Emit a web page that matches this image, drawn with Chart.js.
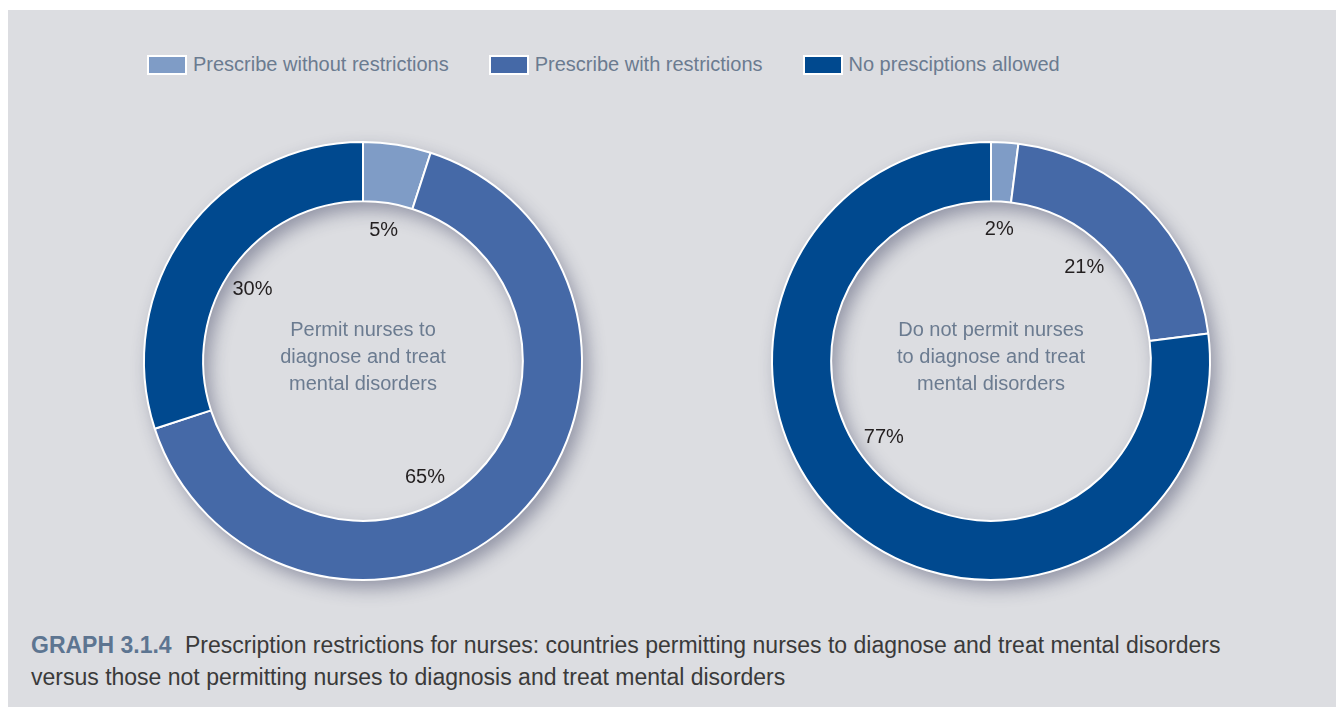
<!DOCTYPE html>
<html>
<head>
<meta charset="utf-8">
<script src="https://cdn.jsdelivr.net/npm/chart.js@4.4.1/dist/chart.umd.min.js"></script>
<style>
  html, body { margin: 0; padding: 0; background: #ffffff; }
  body { width: 1336px; height: 707px; position: relative; overflow: hidden; }
  #panel { position: absolute; left: 8px; top: 10px; right: 0; bottom: 0; background: #dcdde1; }
  #legend { position: absolute; left: 147px; top: 53px; display: flex; align-items: center;
            font-family: "Liberation Sans", Arial, sans-serif;
            font-size: 20px; color: #6b7b90; }
  #legend .item { display: flex; align-items: center; margin-right: 40px; }
  #legend .box { width: 36px; height: 16px; border: 2px solid #ffffff; margin-right: 6px; }
  .wrap { position: absolute; width: 500px; height: 500px; }
  #caption { position: absolute; left: 31px; top: 629px; width: 1300px;
             font-family: "Liberation Sans", Arial, sans-serif; font-size: 23px; line-height: 32px; color: #3a3a3a; }
  #caption b { color: #5d7591; margin-right: 7px; }
</style>
</head>
<body>
<div id="panel"></div>
<div id="legend"></div>
<div class="wrap" style="left:113px; top:111px;"><canvas id="leftChart" width="500" height="500"></canvas></div>
<div class="wrap" style="left:741px; top:111px;"><canvas id="rightChart" width="500" height="500"></canvas></div>
<div id="caption"><b>GRAPH 3.1.4</b> Prescription restrictions for nurses: countries permitting nurses to diagnose and treat mental disorders<br>versus those not permitting nurses to diagnosis and treat mental disorders</div>
<script>
// categories and colours
const categories = ['Prescribe without restrictions', 'Prescribe with restrictions', 'No presciptions allowed'];
const colors = ['#7f9cc6', '#4569a7', '#00498f'];

// values (percent)
const permitValues = [5, 65, 30];
const notPermitValues = [2, 21, 77];

// centre titles
const permitTitle = ['Permit nurses to', 'diagnose and treat', 'mental disorders'];
const notPermitTitle = ['Do not permit nurses', 'to diagnose and treat', 'mental disorders'];

// legend (shared by both charts)
const legendDiv = document.getElementById('legend');
categories.forEach((c, i) => {
	const item = document.createElement('div');
	item.className = 'item';
	item.innerHTML = '<span class="box" style="background:' + colors[i] + '"></span><span>' + c + '</span>';
	legendDiv.appendChild(item);
});

// ring drop shadow, also falls inside the hole on the left side
const ringShadow = {
	id: 'ringShadow',
	beforeDatasetsDraw(chart) {
		const arc = chart.getDatasetMeta(0).data[0];
		if (!arc) return;
		const {x, y, outerRadius, innerRadius} = arc;
		const ctx = chart.ctx;
		ctx.save();
		ctx.shadowColor = 'rgba(40, 45, 80, 0.42)';
		ctx.shadowBlur = 18;
		ctx.shadowOffsetX = 6;
		ctx.shadowOffsetY = 8;
		ctx.beginPath();
		ctx.arc(x, y, outerRadius, 0, Math.PI * 2);
		ctx.arc(x, y, innerRadius, 0, Math.PI * 2, true);
		ctx.fillStyle = '#4569a7';
		ctx.fill();
		ctx.restore();
	}
};

// percent labels inside the hole + centre title
const innerText = {
	id: 'innerText',
	afterDatasetsDraw(chart, args, opts) {
		const ctx = chart.ctx;
		const arcs = chart.getDatasetMeta(0).data;
		const values = chart.data.datasets[0].data;
		ctx.save();
		ctx.font = '20px "Liberation Sans", Arial, sans-serif';
		ctx.fillStyle = '#231f20';
		ctx.textAlign = 'center';
		ctx.textBaseline = 'middle';
		arcs.forEach((arc, i) => {
			const shift = (opts.shift[i] || 0) * Math.PI / 180;
			const mid = (arc.startAngle + arc.endAngle) / 2 + shift;
			const r = arc.innerRadius - 28;
			ctx.fillText(values[i] + '%', arc.x + Math.cos(mid) * r, arc.y + Math.sin(mid) * r);
		});
		const a = arcs[0];
		ctx.font = '20px "Liberation Sans", Arial, sans-serif';
		ctx.fillStyle = '#6b7b90';
		ctx.textBaseline = 'alphabetic';
		opts.title.forEach((line, k) => {
			ctx.fillText(line, a.x, a.y - 25 + k * 27);
		});
		ctx.restore();
	}
};

function makeDonut(id, values, title, shift) {
	const ctx = document.getElementById(id).getContext('2d');
	return new Chart(ctx, {
		type: 'doughnut',
		data: {
			labels: categories,
			datasets: [{
				data: values,
				backgroundColor: colors,
				borderColor: '#ffffff',
				borderWidth: 2
			}]
		},
		options: {
			responsive: false,
			animation: false,
			cutout: '73%',
			layout: { padding: 30 },
			plugins: {
				legend: { display: false },
				tooltip: { enabled: false },
				innerText: { title: title, shift: shift }
			}
		},
		plugins: [ringShadow, innerText]
	});
}

makeDonut('leftChart', permitValues, permitTitle, [0, 17, -3]);
makeDonut('rightChart', notPermitValues, notPermitTitle, [0, 0, 13]);
</script>
</body>
</html>
